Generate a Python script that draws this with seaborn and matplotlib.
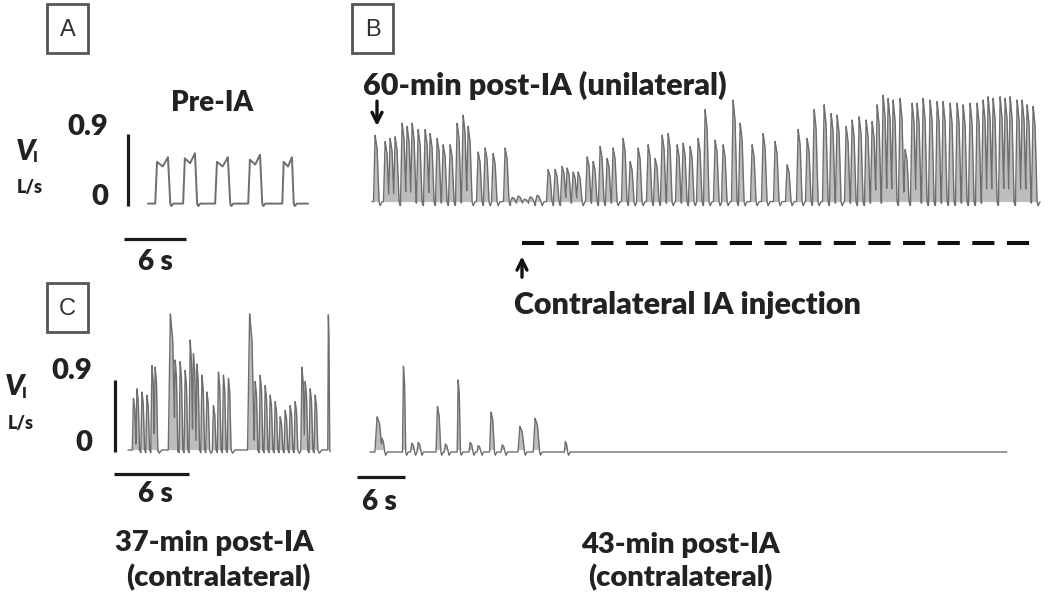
import numpy as np
import matplotlib
matplotlib.use('Agg')
import matplotlib.pyplot as plt
import seaborn as sns
from matplotlib.patches import Rectangle

sns.set_theme(style='white')
plt.rcParams['font.family'] = ['Lato', 'DejaVu Sans']

W, H = 1050, 599
TXT = '#222222'
LINE = '#6e6e6e'
FILL = '#bdbdbd'

# ---- data ----
# A: pre-IA, breath onsets (s), durations (s), peak flow (L/s)
a_onset = [0.7, 3.4, 6.5, 9.7, 13.0]
a_dur = [1.45, 1.35, 1.45, 1.35, 1.1]
a_amp = [0.61, 0.66, 0.61, 0.64, 0.61]
a_end = 15.5

# B: 60-min post-IA (unilateral), breath peak times (s) and peak flow (L/s)
b_peak = [0.3, 1.3, 1.8, 2.3, 3.0, 3.5, 4.0, 4.6, 5.3, 5.8, 6.5, 7.1, 7.8, 8.5, 9.1, 9.6,
          10.6, 11.3, 12.1, 13.3, 14.0, 14.6, 15.2, 15.8, 16.5,
          17.6, 18.3, 19.0, 19.5, 20.1, 20.6, 21.5, 22.1, 22.8, 23.5, 24.1, 25.1, 25.8,
          26.6, 27.6, 28.3, 29.0, 29.6, 30.5, 31.1, 31.8, 32.6, 33.3,
          34.3, 35.1, 36.1, 36.8, 38.0, 39.1, 40.3, 41.5, 42.6, 43.5, 44.2, 45.2, 45.9,
          46.5, 47.4, 48.0, 48.7, 49.4, 50.0, 50.5, 51.1, 51.6, 52.1, 52.8, 53.3, 54.0,
          54.5, 55.1, 55.8, 56.5, 57.1, 57.8, 58.5, 59.1, 59.8, 60.5, 61.1, 61.6, 62.1,
          62.8, 63.3, 63.8, 64.5, 65.0, 65.5, 66.1]
b_amp = [0.86, 0.78, 0.82, 0.84, 1.01, 0.97, 1.01, 0.93, 0.93, 0.88, 0.82, 0.74, 0.74, 1.01, 1.11, 0.97,
         0.65, 0.70, 0.63, 0.70, 0.08, 0.10, 0.06, 0.09, 0.11,
         0.43, 0.43, 0.47, 0.45, 0.40, 0.40, 0.59, 0.53, 0.72, 0.57, 0.70, 0.82, 0.53,
         0.70, 0.74, 0.57, 0.86, 0.88, 0.74, 0.76, 0.72, 0.82, 1.18,
         0.80, 0.74, 1.30, 1.01, 0.74, 0.88, 0.78, 0.49, 0.93, 0.82, 1.18, 1.24, 1.13,
         1.11, 0.97, 1.05, 1.09, 1.05, 1.03, 1.24, 1.36, 1.32, 1.30, 1.32, 0.68, 1.26,
         1.26, 1.32, 1.30, 1.28, 1.28, 1.26, 1.26, 1.24, 1.26, 1.26, 1.30, 1.34, 1.32,
         1.34, 1.32, 1.34, 1.30, 1.30, 1.24, 1.22, 1.15, 1.13]
b_end = 66.8
b_inject = 15.0

# C: 37-min post-IA (contralateral)
c_peak = [0.42, 0.70, 1.10, 1.50, 1.90, 2.16, 3.36, 3.76, 4.16, 4.56, 4.96, 5.22, 5.50,
          5.90, 6.30, 6.82, 7.22, 7.62, 8.02, 9.70, 10.16, 10.56, 10.96, 11.36, 11.76,
          12.16, 12.56, 12.96, 13.36, 13.90, 14.16, 14.56, 14.96, 16.02]
c_amp = [0.67, 0.79, 0.75, 0.71, 1.08, 1.06, 1.73, 1.15, 1.13, 1.02, 1.40, 1.23, 1.10,
         0.96, 0.75, 0.58, 1.00, 0.96, 0.92, 1.73, 0.88, 0.96, 0.83, 0.71, 0.63,
         0.44, 0.52, 0.58, 0.63, 1.06, 0.88, 0.79, 0.71, 1.73]
c_width = [0.3] * 6 + [0.55] + [0.3] * 12 + [0.55] + [0.3] * 13 + [0.15]
c_end = 16.2

# D: 43-min post-IA (contralateral)
d_peak = [0.84, 1.46, 4.16, 5.2, 6.0, 8.4, 9.4, 11.0, 12.5, 13.5, 15.1, 16.5, 18.7, 20.6, 24.4]
d_amp = [0.44, 0.17, 1.07, 0.11, 0.12, 0.57, 0.10, 0.90, 0.12, 0.08, 0.50, 0.09, 0.32, 0.42, 0.13]
d_width = [0.9, 0.5, 0.4, 0.5, 0.5, 0.6, 0.5, 0.4, 0.5, 0.5, 0.6, 0.5, 0.8, 0.8, 0.4]
d_end = 79.6


def build_trace(t_end, starts, amps, widths, key_t, key_y, base=0.03, dip=0.0, dt=0.005):
    # piecewise breath shape; key_t are fractions of the breath width from its start
    t = np.arange(0, t_end, dt)
    y = np.full_like(t, base)
    low = np.full_like(t, base)
    for s, a, w in zip(starts, amps, widths):
        kx = [s + f * w for f in key_t]
        ky = [base + f * (a - base) for f in key_y]
        y = np.maximum(y, np.interp(t, kx, ky, left=base, right=base))
        e = s + w  # small expiratory dip after each breath
        low = np.minimum(low, np.interp(t, [e, e + 0.12, e + 0.3], [base, base - dip, base],
                                        left=base, right=base))
    return t, np.where(y > base, y, low)


def trace_axes(x0, x1, y0, y1, org_px, px_per_s, zero_px, px_per_unit=80.0):
    ax = fig.add_axes([x0 / W, 1 - y1 / H, (x1 - x0) / W, (y1 - y0) / H])
    ax.set_xlim((x0 - org_px) / px_per_s, (x1 - org_px) / px_per_s)
    ax.set_ylim((zero_px - y1) / px_per_unit, (zero_px - y0) / px_per_unit)
    ax.axis('off')
    ax.patch.set_alpha(0)
    return ax


def draw(ax, t, y, fill=True, lw=1.0):
    if fill:
        ax.fill_between(t, 0.03, np.maximum(y, 0.03), color=FILL, lw=0)
    sns.lineplot(x=t, y=y, ax=ax, color=LINE, lw=lw, estimator=None, sort=False)


spike_t = [0.0, 0.3, 0.65, 1.0]
spike_y = [0.0, 1.0, 0.8, 0.0]
arrow = dict(arrowstyle='->', lw=2.4, color='#111111', mutation_scale=18)

fig = plt.figure(figsize=(W / 100, H / 100), dpi=100)

# A
axA = trace_axes(100, 320, 90, 280, 148, 10.33, 206)
t, y = build_trace(a_end, a_onset, a_amp, a_dur, [0, 0.12, 0.5, 0.85, 1.0], [0, 0.9, 0.8, 1.0, 0],
                   dip=0.03)
draw(axA, t, y, fill=False, lw=1.4)
axA.plot([-1.94, -1.94], [0, 0.9], color='#1a1a1a', lw=2.3, solid_capstyle='butt')
axA.plot([-2.3, 3.7], [-0.41, -0.41], color='#1a1a1a', lw=2.3, solid_capstyle='butt')

# B
axB = trace_axes(365, 1048, 60, 300, 372, 10.0, 204)
b_start = [p - 0.15 for p in b_peak]
t, y = build_trace(b_end, b_start, b_amp, [0.55] * len(b_peak), spike_t, spike_y, dip=0.05)
draw(axB, t, y)
axB.plot([b_inject, b_end], [-0.49, -0.49], color='#111111', lw=2.9, dashes=(5.5, 3.1))
axB.annotate('', xy=(b_inject, -0.62), xytext=(b_inject, -0.95), arrowprops=arrow)
axB.annotate('', xy=(0.5, 0.94), xytext=(0.5, 1.32), arrowprops=arrow)

# C
axC = trace_axes(100, 340, 300, 490, 128, 12.5, 452)
c_start = [p - 0.25 * w for p, w in zip(c_peak, c_width)]
t, y = build_trace(c_end, c_start, c_amp, c_width, spike_t, spike_y, base=0.025, dip=0.04)
draw(axC, t, y)
axC.plot([-1.04, -1.04], [0, 0.9], color='#1a1a1a', lw=2.3, solid_capstyle='butt')
axC.plot([-1.12, 4.88], [-0.27, -0.27], color='#1a1a1a', lw=2.3, solid_capstyle='butt')

# D
axD = trace_axes(350, 1015, 340, 490, 370, 8.0, 452)
d_start = [p - 0.25 * w for p, w in zip(d_peak, d_width)]
t, y = build_trace(d_end, d_start, d_amp, d_width, spike_t, spike_y, base=0.0, dip=0.04)
draw(axD, t, y)
axD.plot([-1.6, 4.4], [-0.31, -0.31], color='#1a1a1a', lw=2.3, solid_capstyle='butt')

# text overlay in pixel units
ov = fig.add_axes([0, 0, 1, 1])
ov.set_xlim(0, W)
ov.set_ylim(H, 0)
ov.axis('off')
ov.patch.set_alpha(0)

for lab, x0, y0 in [('A', 47, 4), ('B', 352, 4), ('C', 47, 283)]:
    ov.add_patch(Rectangle((x0, y0), 41, 49, fill=False, ec='#555555', lw=2))
    ov.text(x0 + 20.5, y0 + 26, lab, ha='center', va='center', fontsize=17,
            family=['Liberation Sans', 'DejaVu Sans'], color='#333333')

bold = dict(color=TXT, fontweight='heavy', va='center')
ov.text(212, 103, 'Pre-IA', ha='center', fontsize=20, **bold)
ov.text(363, 85, '60-min post-IA (unilateral)', ha='left', fontsize=22, **bold)
ov.text(514, 305, 'Contralateral IA injection', ha='left', fontsize=22, **bold)

# y-scale labels: (0.9 / 0 right edge, their rows, V_I and L/s positions)
for xr, y9, y0, vx, vy, lx, ly in [(108, 127, 197, 25, 152, 30, 188),
                                   (92, 371, 443, 14, 387, 21, 423)]:
    ov.text(xr, y9, '0.9', ha='right', fontsize=21, **bold)
    ov.text(xr, y0, '0', ha='right', fontsize=21, **bold)
    ov.text(vx, vy, 'V', ha='center', fontsize=21, style='italic', **bold)
    ov.text(vx + 8, vy + 6, 'I', ha='left', fontsize=11, **bold)
    ov.text(lx, ly, 'L/s', ha='center', fontsize=13, **bold)

ov.text(155, 262, '6 s', ha='center', fontsize=20, **bold)
ov.text(155, 494, '6 s', ha='center', fontsize=20, **bold)
ov.text(379, 502, '6 s', ha='center', fontsize=20, **bold)

ov.text(214, 543, '37-min post-IA', ha='center', fontsize=21, **bold)
ov.text(218, 578, '(contralateral)', ha='center', fontsize=21, **bold)
ov.text(680, 545, '43-min post-IA', ha='center', fontsize=21, **bold)
ov.text(680, 578, '(contralateral)', ha='center', fontsize=21, **bold)

fig.savefig('out.png', dpi=100, facecolor='white')
